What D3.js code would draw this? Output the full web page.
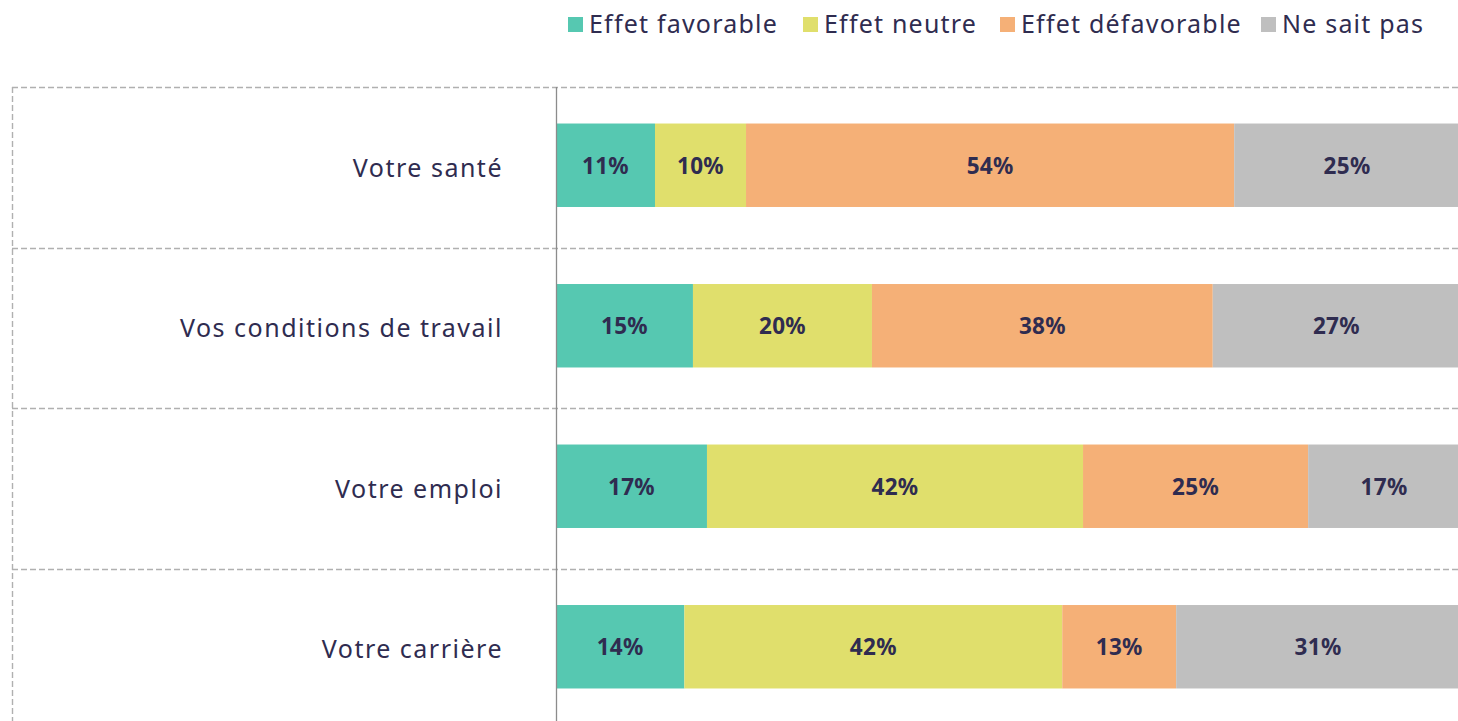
<!DOCTYPE html>
<html>
<head>
<meta charset="utf-8">
<script src="https://cdn.jsdelivr.net/npm/d3@7"></script>
<style>
  body { margin: 0; background: #fff; }
  svg { display: block; font-family: "Noto Sans", sans-serif; }
</style>
</head>
<body>
<svg id="chart" width="1458" height="721"></svg>
<script>
// categories (top to bottom)
var categories = ["Votre santé", "Vos conditions de travail", "Votre emploi", "Votre carrière"];
var seriesNames = ["Effet favorable", "Effet neutre", "Effet défavorable", "Ne sait pas"];
var colors = ["#56c8b1", "#e0df6c", "#f5b077", "#bfbfbf"];

// shares in %
var favorable   = [10.95, 15.15, 16.7, 14.2];
var neutre      = [10.07, 19.8, 41.6, 41.8];
var defavorable = [54.0, 37.7, 24.9, 12.6];
var nesaitpas   = [24.98, 27.35, 16.8, 31.4];

var series = [favorable, neutre, defavorable, nesaitpas];
var textColor = "#2f2c50";

var svg = d3.select("#chart");

var x = d3.scaleLinear().domain([0, 100]).range([556, 1460]);
var y = d3.scaleBand().domain(categories).range([85, 727]).paddingInner(0.48).paddingOuter(0.24);
var band = d3.scaleBand().domain(categories).range([87, 729]);

// dashed grid (category separators)
svg.append("g").selectAll("line")
  .data(categories)
  .join("line")
  .attr("x1", 12).attr("x2", 1458)
  .attr("y1", function (d) { return Math.round(band(d)) + 0.5; })
  .attr("y2", function (d) { return Math.round(band(d)) + 0.5; })
  .attr("stroke", "#b0b0b0").attr("stroke-width", 1.4)
  .attr("stroke-dasharray", "6,3");

svg.append("line")
  .attr("x1", 12.5).attr("x2", 12.5).attr("y1", 87).attr("y2", 721)
  .attr("stroke", "#b0b0b0").attr("stroke-width", 1.4)
  .attr("stroke-dasharray", "6,3");

// stacked segments
var stacked = [];
categories.forEach(function (c, i) {
  var acc = 0;
  series.forEach(function (s, k) {
    stacked.push({ cat: c, k: k, x0: acc, x1: acc + s[i], v: s[i] });
    acc += s[i];
  });
});

var seg = svg.append("g").selectAll("g")
  .data(stacked)
  .join("g");

seg.append("rect")
  .attr("x", function (d) { return x(d.x0); })
  .attr("width", function (d) { return x(d.x1) - x(d.x0); })
  .attr("y", function (d) { return y(d.cat); })
  .attr("height", y.bandwidth())
  .attr("fill", function (d) { return colors[d.k]; });

seg.append("text")
  .attr("x", function (d) { return (x(d.x0) + Math.min(x(d.x1), 1458 + 4)) / 2; })
  .attr("y", function (d) { return y(d.cat) + y.bandwidth() / 2; })
  .attr("dy", "0.38em")
  .attr("text-anchor", "middle")
  .attr("font-size", 22.5)
  .attr("font-weight", 700)
  .attr("letter-spacing", 0.3)
  .attr("fill", textColor)
  .text(function (d) { return Math.round(d.v) + "%"; });

// vertical axis line
svg.append("line")
  .attr("x1", 556.5).attr("x2", 556.5).attr("y1", 87).attr("y2", 721)
  .attr("stroke", "#8c8c8c").attr("stroke-width", 1.3);

// category labels
svg.append("g").selectAll("text")
  .data(categories)
  .join("text")
  .attr("x", 503)
  .attr("y", function (d) { return y(d) + y.bandwidth() / 2; })
  .attr("dy", "0.45em")
  .attr("text-anchor", "end")
  .attr("font-size", 25)
  .attr("letter-spacing", 1.5)
  .attr("fill", textColor)
  .text(function (d) { return d; });

// legend
var legendX = [568, 803, 1000, 1261];
var lg = svg.append("g").selectAll("g")
  .data(seriesNames)
  .join("g")
  .attr("transform", function (d, i) { return "translate(" + legendX[i] + ",24)"; });
lg.append("rect").attr("x", 0).attr("y", -7).attr("width", 15).attr("height", 15)
  .attr("fill", function (d, i) { return colors[i]; });
lg.append("text").attr("x", 21).attr("dy", "0.35em")
  .attr("font-size", 25).attr("letter-spacing", 1.2).attr("fill", textColor)
  .text(function (d) { return d; });
</script>
</body>
</html>
